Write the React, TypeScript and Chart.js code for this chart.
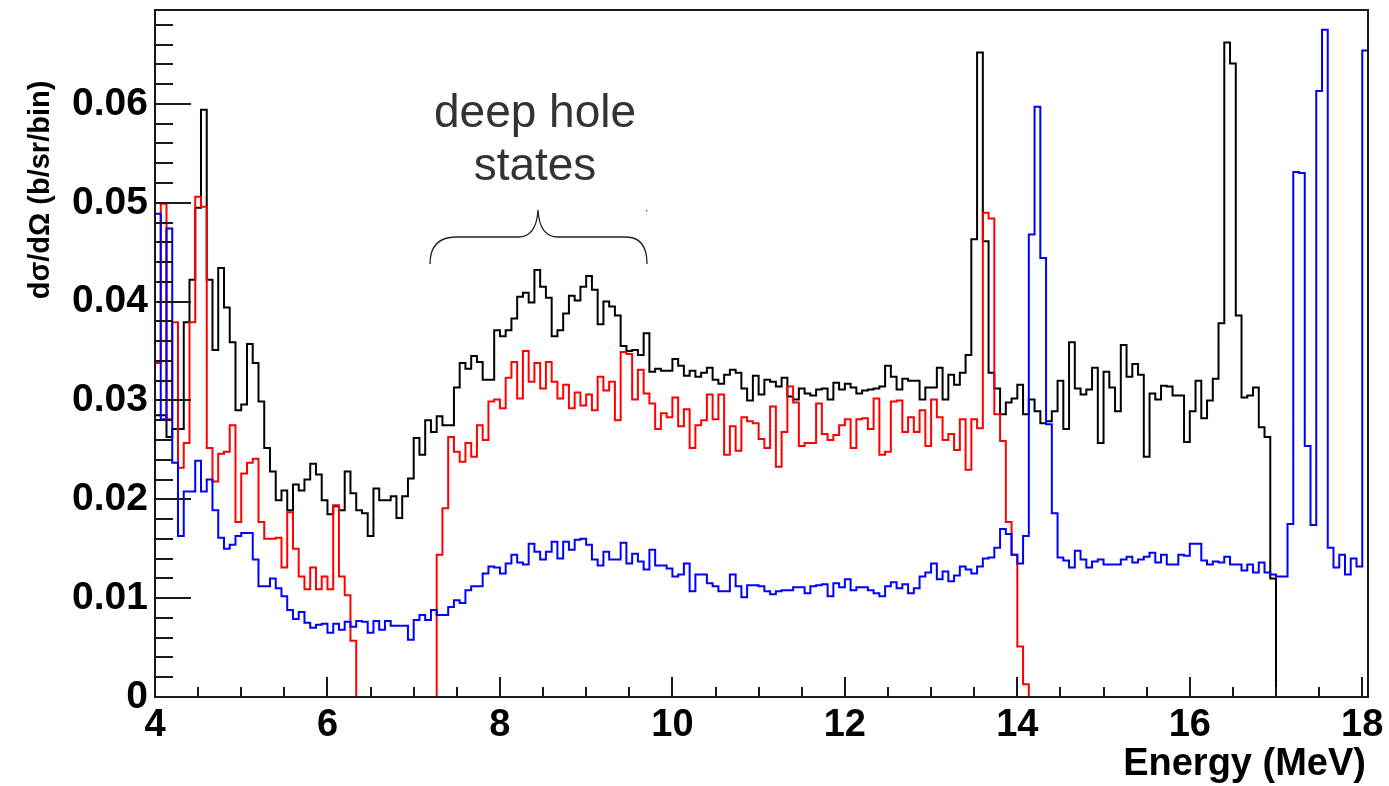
import React, { useEffect, useRef } from "react";
import { Chart, registerables } from "chart.js";

Chart.register(...registerables);

// ---- data (bin contents, b/sr/bin), bins of 1/15 MeV starting at 4 MeV ----
const BIN_START = 4;
const BIN_WIDTH = 1 / 15;
const X_MIN = 4;
const X_MAX = 18 + 1 / 15;
const Y_MIN = 0;
const Y_MAX = 0.0695;

const X_TICKS = [4, 6, 8, 10, 12, 14, 16, 18];
const X_TICK_LABELS = ["4", "6", "8", "10", "12", "14", "16", "18"];
const Y_TICKS = [0, 0.01, 0.02, 0.03, 0.04, 0.05, 0.06];
const Y_TICK_LABELS = ["0", "0.01", "0.02", "0.03", "0.04", "0.05", "0.06"];

const BLACK = [
  0.0285, 0.0285, 0.0263, 0.0271, 0.0271, 0.0379, 0.0422, 0.0495, 0.0594, 0.0422,
  0.0351, 0.0434, 0.0394, 0.0359, 0.0290, 0.0296, 0.0357, 0.0338, 0.0299, 0.0252,
  0.0228, 0.0199, 0.0209, 0.0189, 0.0215, 0.0209, 0.0220, 0.0236, 0.0225, 0.0199,
  0.0185, 0.0193, 0.0189, 0.0228, 0.0206, 0.0189, 0.0186, 0.0163, 0.0211, 0.0199,
  0.0199, 0.0203, 0.0181, 0.0203, 0.0221, 0.0262, 0.0245, 0.0280, 0.0268, 0.0284,
  0.0275, 0.0275, 0.0313, 0.0338, 0.0332, 0.0345, 0.0339, 0.0321, 0.0321, 0.0371,
  0.0365, 0.0371, 0.0383, 0.0405, 0.0409, 0.0399, 0.0432, 0.0415, 0.0404, 0.0365,
  0.0371, 0.0388, 0.0406, 0.0401, 0.0415, 0.0426, 0.0412, 0.0377, 0.0400, 0.0395,
  0.0386, 0.0355, 0.0350, 0.0351, 0.0346, 0.0368, 0.0329, 0.0332, 0.0330, 0.0330,
  0.0342, 0.0335, 0.0325, 0.0330, 0.0324, 0.0328, 0.0333, 0.0321, 0.0317, 0.0326,
  0.0331, 0.0328, 0.0312, 0.0300, 0.0325, 0.0306, 0.0321, 0.0319, 0.0314, 0.0323,
  0.0304, 0.0301, 0.0312, 0.0307, 0.0305, 0.0311, 0.0312, 0.0301, 0.0318, 0.0311,
  0.0317, 0.0313, 0.0307, 0.0310, 0.0311, 0.0312, 0.0314, 0.0335, 0.0324, 0.0311,
  0.0322, 0.0320, 0.0320, 0.0301, 0.0313, 0.0313, 0.0333, 0.0301, 0.0326, 0.0316,
  0.0328, 0.0346, 0.0463, 0.0652, 0.0461, 0.0328, 0.0312, 0.0286, 0.0298, 0.0302,
  0.0316, 0.0286, 0.0301, 0.0289, 0.0277, 0.0279, 0.0289, 0.0320, 0.0271, 0.0359,
  0.0312, 0.0306, 0.0311, 0.0333, 0.0257, 0.0329, 0.0313, 0.0289, 0.0356, 0.0324,
  0.0337, 0.0326, 0.0243, 0.0307, 0.0301, 0.0315, 0.0314, 0.0305, 0.0305, 0.0258,
  0.0289, 0.0320, 0.0282, 0.0300, 0.0322, 0.0378, 0.0662, 0.0641, 0.0386, 0.0303,
  0.0305, 0.0313, 0.0273, 0.0263, 0.0120, 0, 0, 0, 0, 0,
  0, 0, 0, 0, 0, 0, 0, 0, 0, 0, 0,
];

const RED = [
  0.0338, 0.0499, 0.0281, 0.0379, 0.0232, 0.0257, 0.0379, 0.0506, 0.0496, 0.0252,
  0.0218, 0.0246, 0.0248, 0.0275, 0.0177, 0.0226, 0.0237, 0.0241, 0.0177, 0.0160,
  0.0160, 0.0161, 0.0131, 0.0187, 0.0150, 0.0122, 0.0109, 0.0131, 0.0109, 0.0122,
  0.0109, 0.0194, 0.0122, 0.0103, 0.0057, 0, 0, 0, 0, 0,
  0, 0, 0, 0, 0, 0, 0, 0, 0, 0.0144,
  0.0191, 0.0263, 0.0248, 0.0238, 0.0257, 0.0243, 0.0275, 0.0260, 0.0299, 0.0301,
  0.0292, 0.0323, 0.0339, 0.0302, 0.0350, 0.0319, 0.0338, 0.0312, 0.0339, 0.0319,
  0.0302, 0.0316, 0.0292, 0.0308, 0.0295, 0.0306, 0.0290, 0.0324, 0.0310, 0.0319,
  0.0280, 0.0349, 0.0347, 0.0301, 0.0331, 0.0307, 0.0297, 0.0271, 0.0287, 0.0283,
  0.0303, 0.0274, 0.0291, 0.0252, 0.0275, 0.0280, 0.0306, 0.0281, 0.0306, 0.0245,
  0.0274, 0.0249, 0.0283, 0.0279, 0.0277, 0.0261, 0.0252, 0.0294, 0.0233, 0.0268,
  0.0314, 0.0298, 0.0254, 0.0257, 0.0257, 0.0297, 0.0266, 0.0260, 0.0265, 0.0275,
  0.0281, 0.0252, 0.0281, 0.0282, 0.0271, 0.0302, 0.0245, 0.0248, 0.0299, 0.0300,
  0.0268, 0.0283, 0.0268, 0.0290, 0.0254, 0.0301, 0.0283, 0.0260, 0.0266, 0.0250,
  0.0281, 0.0230, 0.0281, 0.0272, 0.0490, 0.0484, 0.0286, 0.0259, 0.0177, 0.0144,
  0.0051, 0.0013, 0, 0, 0, 0, 0, 0, 0, 0,
  0, 0, 0, 0, 0, 0, 0, 0, 0, 0,
  0, 0, 0, 0, 0, 0, 0, 0, 0, 0,
  0, 0, 0, 0, 0, 0, 0, 0, 0, 0,
  0, 0, 0, 0, 0, 0, 0, 0, 0, 0,
  0, 0, 0, 0, 0, 0, 0, 0, 0, 0, 0,
];

const BLUE = [
  0.0489, 0.0281, 0.0474, 0.0237, 0.0163, 0.0208, 0.0208, 0.0239, 0.0208, 0.0220,
  0.0189, 0.0161, 0.0150, 0.0154, 0.0163, 0.0166, 0.0166, 0.0139, 0.0112, 0.0112,
  0.0120, 0.0110, 0.0102, 0.0088, 0.0079, 0.0086, 0.0075, 0.0070, 0.0073, 0.0074,
  0.0065, 0.0074, 0.0068, 0.0076, 0.0071, 0.0077, 0.0076, 0.0065, 0.0077, 0.0068,
  0.0077, 0.0072, 0.0072, 0.0072, 0.0058, 0.0078, 0.0083, 0.0078, 0.0088, 0.0083,
  0.0083, 0.0091, 0.0098, 0.0095, 0.0108, 0.0112, 0.0112, 0.0125, 0.0132, 0.0131,
  0.0125, 0.0135, 0.0144, 0.0136, 0.0134, 0.0155, 0.0147, 0.0139, 0.0147, 0.0157,
  0.0140, 0.0157, 0.0149, 0.0159, 0.0160, 0.0154, 0.0139, 0.0133, 0.0147, 0.0139,
  0.0139, 0.0156, 0.0135, 0.0145, 0.0137, 0.0129, 0.0149, 0.0133, 0.0133, 0.0130,
  0.0122, 0.0124, 0.0135, 0.0107, 0.0124, 0.0124, 0.0115, 0.0112, 0.0107, 0.0107,
  0.0124, 0.0112, 0.0101, 0.0113, 0.0113, 0.0112, 0.0107, 0.0104, 0.0107, 0.0108,
  0.0108, 0.0111, 0.0111, 0.0105, 0.0112, 0.0113, 0.0114, 0.0102, 0.0115, 0.0111,
  0.0119, 0.0108, 0.0111, 0.0111, 0.0108, 0.0105, 0.0102, 0.0112, 0.0116, 0.0110,
  0.0114, 0.0105, 0.0110, 0.0122, 0.0126, 0.0135, 0.0119, 0.0127, 0.0117, 0.0123,
  0.0132, 0.0129, 0.0125, 0.0132, 0.0140, 0.0141, 0.0151, 0.0170, 0.0165, 0.0144,
  0.0135, 0.0163, 0.0468, 0.0597, 0.0444, 0.0276, 0.0186, 0.0141, 0.0138, 0.0131,
  0.0148, 0.0139, 0.0131, 0.0137, 0.0139, 0.0134, 0.0134, 0.0134, 0.0139, 0.0142,
  0.0136, 0.0139, 0.0142, 0.0146, 0.0136, 0.0144, 0.0134, 0.0134, 0.0144, 0.0143,
  0.0155, 0.0155, 0.0138, 0.0134, 0.0137, 0.0136, 0.0142, 0.0134, 0.0134, 0.0128,
  0.0134, 0.0126, 0.0136, 0.0126, 0.0124, 0.0122, 0.0122, 0.0175, 0.0531, 0.0530,
  0.0254, 0.0174, 0.0613, 0.0675, 0.0151, 0.0131, 0.0144, 0.0124, 0.0140, 0.0132, 0.0654,
];

const Y_TITLE = "dσ/dΩ (b/sr/bin)";
const X_TITLE = "Energy (MeV)";
const NOTE_LINES = ["deep hole", "states"];

const FONT = "'Liberation Sans', Arial, Helvetica, sans-serif";

function toSteps(values: number[]) {
  const pts = values.map((v, i) => ({ x: BIN_START + i * BIN_WIDTH, y: v }));
  pts.push({ x: BIN_START + values.length * BIN_WIDTH, y: values[values.length - 1] });
  return pts;
}

const overlayPlugin = {
  id: "rootOverlay",
  afterDatasetsDraw(chart: any) {
    const { ctx, chartArea: a, scales } = chart;
    const x = scales.x;
    const y = scales.y;
    ctx.save();

    // frame
    ctx.strokeStyle = "#1a1a1a";
    ctx.lineWidth = 2;
    ctx.strokeRect(a.left, a.top, a.right - a.left, a.bottom - a.top);

    // inside ticks (ROOT style)
    ctx.beginPath();
    for (let k = 0; ; k++) {
      const v = Y_MIN + k * 0.002;
      if (v > Y_MAX) break;
      const py = Math.round(y.getPixelForValue(v));
      const len = k % 5 === 0 ? 36 : 18;
      ctx.moveTo(a.left, py);
      ctx.lineTo(a.left + len, py);
    }
    for (let k = 0; ; k++) {
      const v = X_MIN + k * 0.5;
      if (v > X_MAX) break;
      const px = Math.round(x.getPixelForValue(v));
      const len = k % 4 === 0 ? 20 : 10;
      ctx.moveTo(px, a.bottom);
      ctx.lineTo(px, a.bottom - len);
    }
    ctx.stroke();

    // axis titles
    ctx.fillStyle = "#000";
    ctx.font = `bold 38px ${FONT}`;
    ctx.textAlign = "right";
    ctx.textBaseline = "alphabetic";
    ctx.fillText(X_TITLE, 1366, 775);

    ctx.save();
    ctx.translate(41, 190);
    ctx.rotate(-Math.PI / 2);
    ctx.font = `bold 29px ${FONT}`;
    ctx.textAlign = "center";
    ctx.textBaseline = "middle";
    ctx.fillText(Y_TITLE, 0, 0);
    ctx.restore();

    // annotation
    ctx.fillStyle = "#333333";
    ctx.font = `46px ${FONT}`;
    ctx.textAlign = "center";
    ctx.textBaseline = "alphabetic";
    ctx.fillText(NOTE_LINES[0], 535, 127);
    ctx.fillText(NOTE_LINES[1], 535, 180);

    ctx.strokeStyle = "#222222";
    ctx.lineWidth = 1.3;
    ctx.beginPath();
    ctx.moveTo(430, 264);
    ctx.bezierCurveTo(430, 246, 438, 237, 456, 237);
    ctx.lineTo(518, 237);
    ctx.bezierCurveTo(530, 237, 537, 228, 538, 210);
    ctx.moveTo(538, 210);
    ctx.bezierCurveTo(539, 228, 546, 237, 558, 237);
    ctx.lineTo(626, 237);
    ctx.bezierCurveTo(641, 237, 647, 247, 647, 264);
    ctx.stroke();
    ctx.fillStyle = "#444";
    ctx.fillRect(646, 210, 1.2, 1.2);

    ctx.restore();
  },
};

export default function App() {
  const ref = useRef<HTMLCanvasElement | null>(null);

  useEffect(() => {
    document.body.style.margin = "0";
    const canvas = ref.current;
    if (!canvas) return;
    const mk = (label: string, values: number[], color: string, order: number) => ({
      label,
      data: toSteps(values),
      borderColor: color,
      borderWidth: 2,
      stepped: "before" as const,
      pointRadius: 0,
      fill: false,
      order,
    });
    const chart = new Chart(canvas, {
      type: "line",
      data: {
        datasets: [
          mk("black", BLACK, "#000000", 3),
          mk("red", RED, "#ff0000", 2),
          mk("blue", BLUE, "#0000ff", 1),
        ],
      },
      options: {
        animation: false,
        responsive: false,
        devicePixelRatio: 1,
        layout: { padding: { top: 10, right: 21, left: 0, bottom: 0 } },
        plugins: {
          legend: { display: false },
          tooltip: { enabled: false },
        },
        scales: {
          x: {
            type: "linear",
            min: X_MIN,
            max: X_MAX,
            grid: { display: false, drawTicks: false },
            border: { display: false },
            afterFit: (s: any) => {
              s.height = 89;
              s.paddingLeft = 0;
              s.paddingRight = 0;
            },
            afterBuildTicks: (s: any) => {
              s.ticks = X_TICKS.map((v) => ({ value: v }));
            },
            ticks: {
              autoSkip: false,
              maxRotation: 0,
              padding: 6,
              color: "#000",
              font: { family: FONT, weight: "bold", size: 38 },
              callback: (_v: any, i: number) => X_TICK_LABELS[i],
            },
          },
          y: {
            type: "linear",
            min: Y_MIN,
            max: Y_MAX,
            grid: { display: false, drawTicks: false },
            border: { display: false },
            afterFit: (s: any) => {
              s.width = 155;
              s.paddingTop = 0;
              s.paddingBottom = 0;
            },
            afterBuildTicks: (s: any) => {
              s.ticks = Y_TICKS.map((v) => ({ value: v }));
            },
            ticks: {
              padding: 7,
              color: "#000",
              font: { family: FONT, weight: "bold", size: 39 },
              callback: (_v: any, i: number) => Y_TICK_LABELS[i],
            },
          },
        },
      },
      plugins: [overlayPlugin],
    });
    return () => chart.destroy();
  }, []);

  return (
    <div style={{ width: 1389, height: 786, position: "relative", background: "#fff" }}>
      <canvas ref={ref} width={1389} height={786} style={{ display: "block" }} />
    </div>
  );
}
